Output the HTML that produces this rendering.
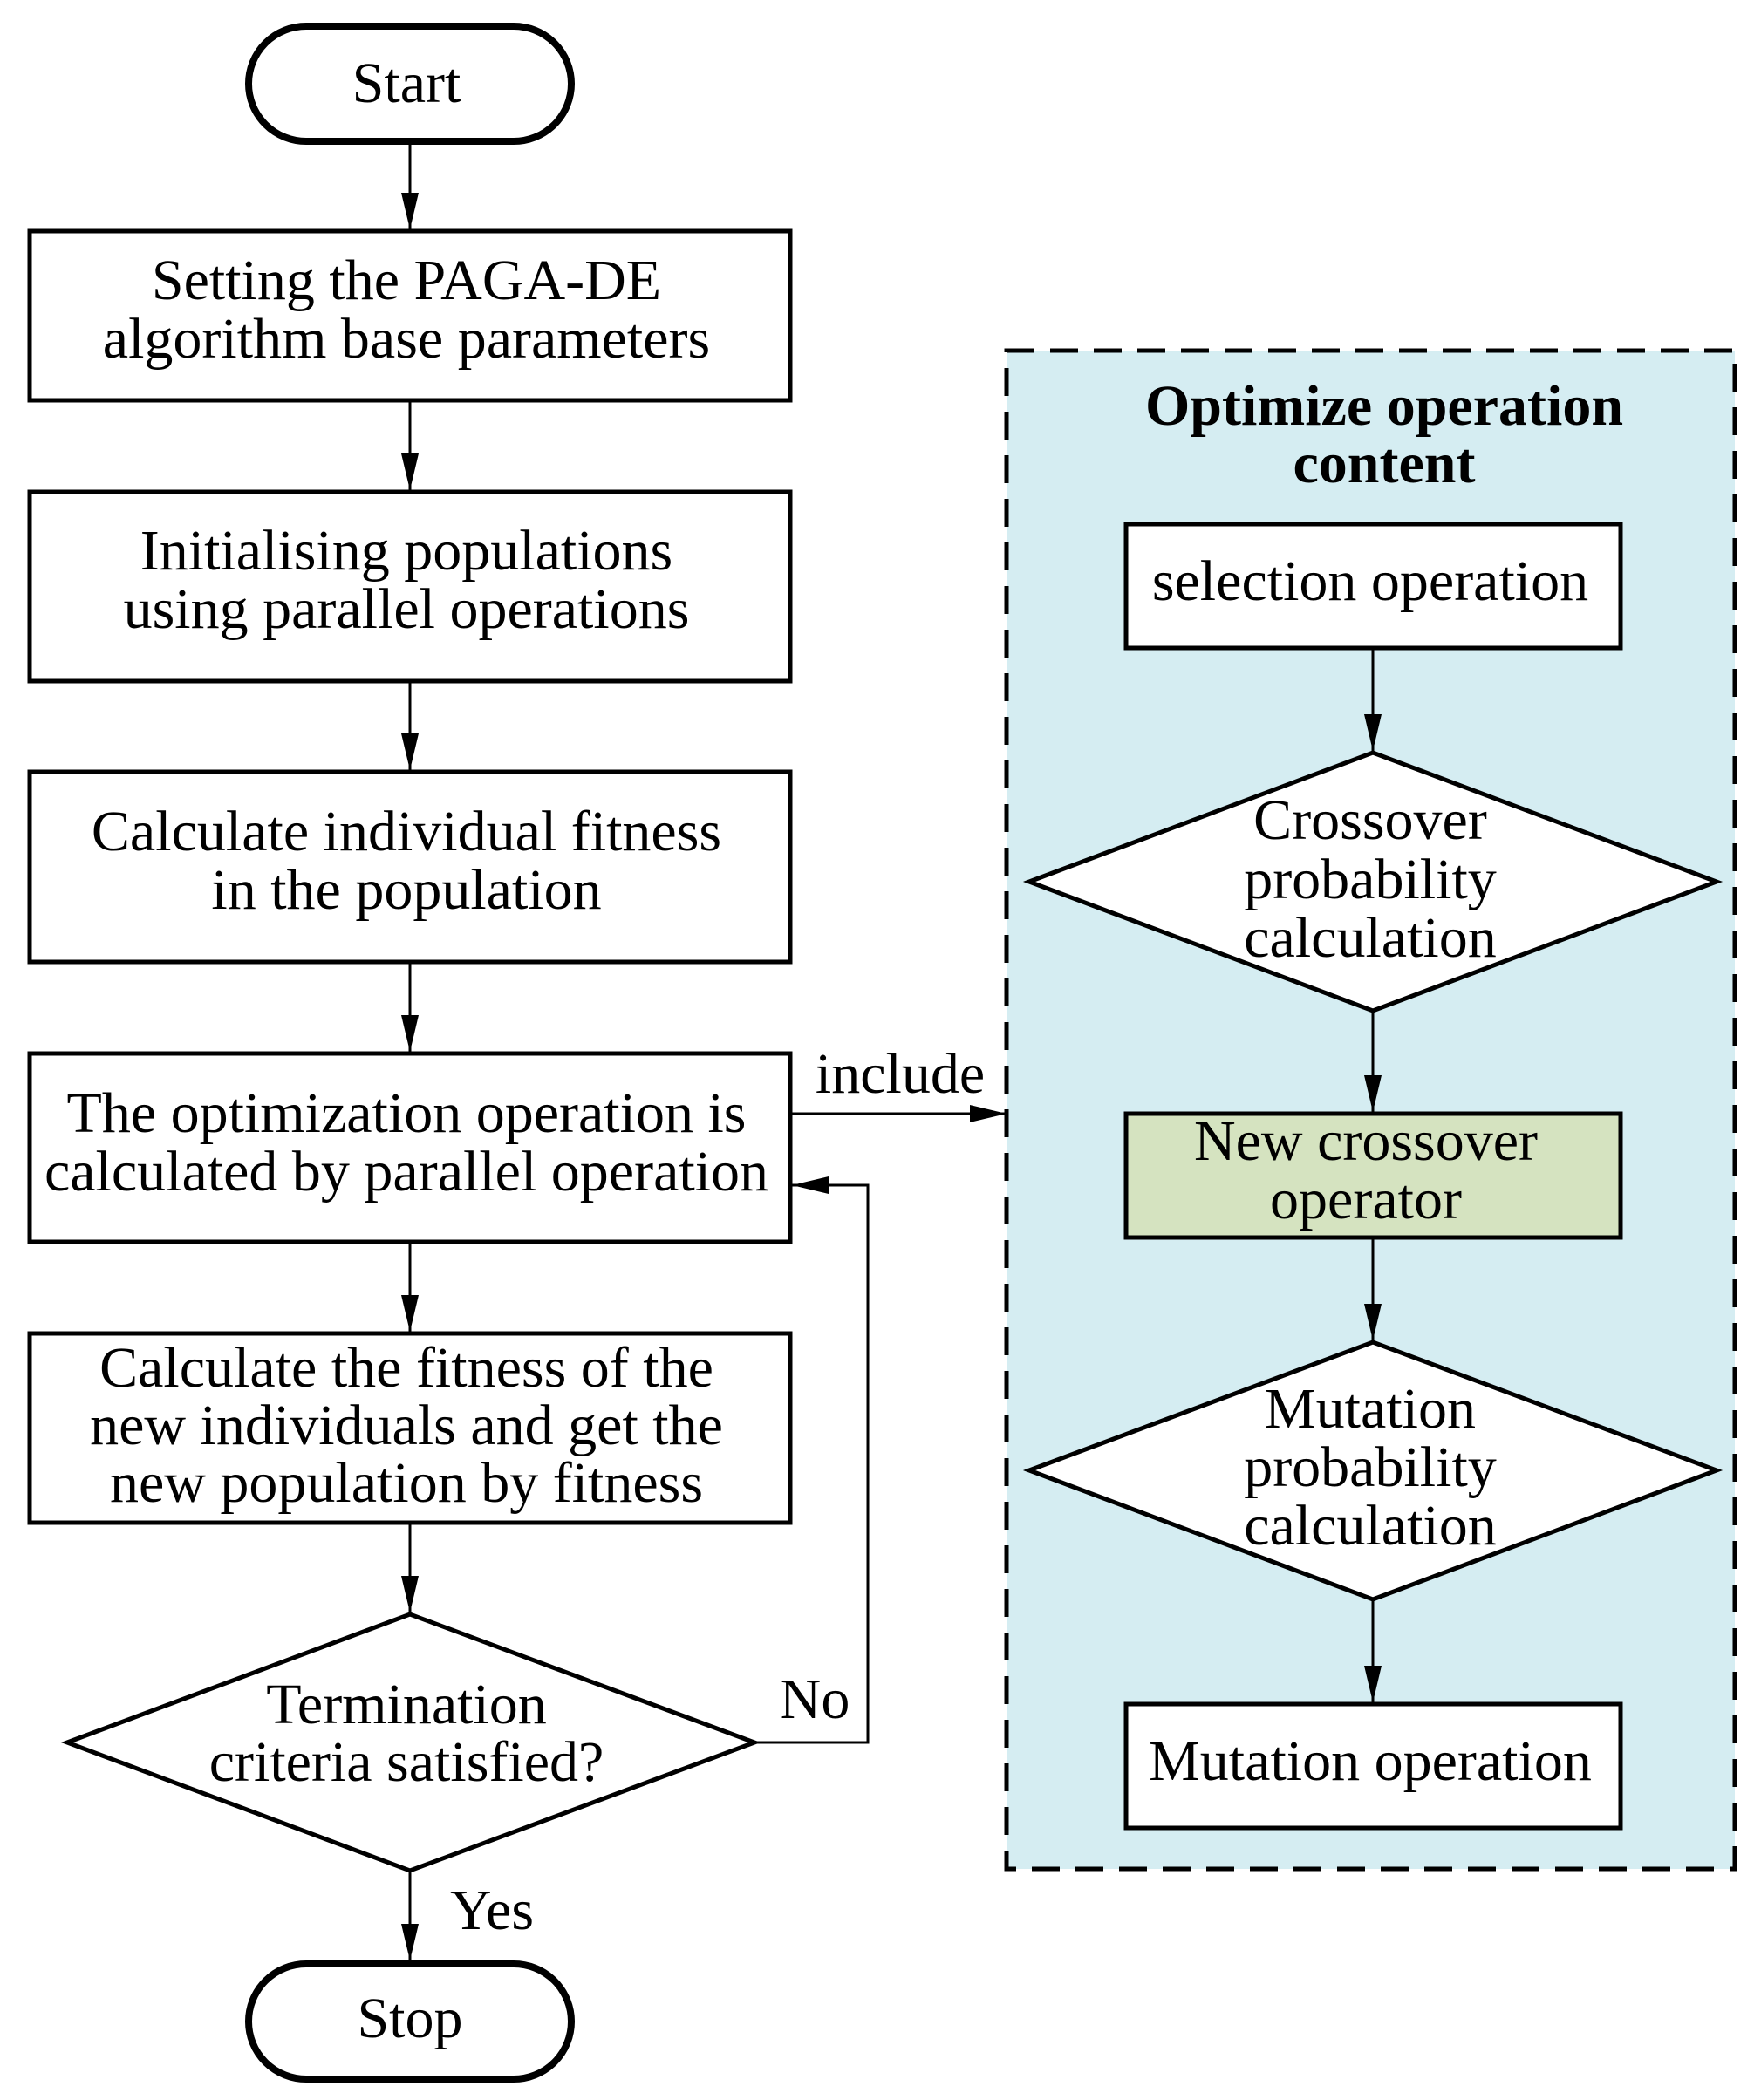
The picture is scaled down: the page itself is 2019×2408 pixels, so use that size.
<!DOCTYPE html>
<html><head><meta charset="utf-8"><style>html,body{margin:0;padding:0;background:#fff}svg{display:block}</style></head>
<body>
<svg width="2019" height="2408" viewBox="0 0 2019 2408" xmlns="http://www.w3.org/2000/svg" font-family="'Liberation Serif', serif" font-size="66" text-anchor="middle">
<defs><marker id="a" markerWidth="42" markerHeight="20" refX="42" refY="10" viewBox="0 0 42 20" orient="auto" markerUnits="userSpaceOnUse"><path d="M0,0 L42,10 L0,20 z" fill="#000"/></marker></defs>
<g fill="none" stroke="#000" stroke-width="3">
<rect x="1154" y="402" width="835" height="1741" fill="#d5edf2" stroke-width="5" stroke-dasharray="32,18"/>
</g>
<g stroke="#000" stroke-width="5" fill="#fff">
<rect x="285" y="30" width="370" height="132" rx="66" stroke-width="8"/>
<rect x="34" y="265" width="872" height="194"/>
<rect x="34" y="564" width="872" height="217"/>
<rect x="34" y="885" width="872" height="218"/>
<rect x="34" y="1208" width="872" height="216"/>
<rect x="34" y="1529" width="872" height="217"/>
<polygon points="77,1998 470,1851 865,1998 470,2145"/>
<rect x="285" y="2252" width="370" height="132" rx="66" stroke-width="8"/>
<rect x="1291" y="601" width="567" height="142"/>
<polygon points="1180,1011 1574,863 1968,1011 1574,1159"/>
<rect x="1291" y="1277" width="567" height="142" fill="#d5e3c0"/>
<polygon points="1180,1686 1574,1539 1968,1686 1574,1834"/>
<rect x="1291" y="1954" width="567" height="142"/>
</g>
<g stroke="#000" stroke-width="3" fill="none">
<line x1="470" y1="162" x2="470" y2="263" marker-end="url(#a)"/>
<line x1="470" y1="459" x2="470" y2="562" marker-end="url(#a)"/>
<line x1="470" y1="781" x2="470" y2="883" marker-end="url(#a)"/>
<line x1="470" y1="1103" x2="470" y2="1206" marker-end="url(#a)"/>
<line x1="470" y1="1424" x2="470" y2="1527" marker-end="url(#a)"/>
<line x1="470" y1="1746" x2="470" y2="1849" marker-end="url(#a)"/>
<line x1="470" y1="2145" x2="470" y2="2248" marker-end="url(#a)"/>
<line x1="906" y1="1277" x2="1154" y2="1277" marker-end="url(#a)"/>
<polyline points="865,1998 995,1998 995,1359 908,1359" marker-end="url(#a)"/>
<line x1="1574" y1="743" x2="1574" y2="861" marker-end="url(#a)"/>
<line x1="1574" y1="1159" x2="1574" y2="1275" marker-end="url(#a)"/>
<line x1="1574" y1="1419" x2="1574" y2="1537" marker-end="url(#a)"/>
<line x1="1574" y1="1834" x2="1574" y2="1952" marker-end="url(#a)"/>
</g>
<g fill="#000">
<text x="466" y="117">Start</text>
<text x="466" y="343">Setting the PAGA-DE</text>
<text x="466" y="410">algorithm base parameters</text>
<text x="466" y="653">Initialising populations</text>
<text x="466" y="720">using parallel operations</text>
<text x="466" y="975">Calculate individual fitness</text>
<text x="466" y="1042">in the population</text>
<text x="466" y="1298">The optimization operation is</text>
<text x="466" y="1365">calculated by parallel operation</text>
<text x="466" y="1590">Calculate the fitness of the</text>
<text x="466" y="1656">new individuals and get the</text>
<text x="466" y="1722">new population by fitness</text>
<text x="466" y="1976">Termination</text>
<text x="466" y="2042">criteria satisfied?</text>
<text x="470" y="2336">Stop</text>
<text x="1032" y="1253">include</text>
<text x="934" y="1970">No</text>
<text x="564" y="2212">Yes</text>
<text x="1587" y="487" font-weight="bold">Optimize operation</text>
<text x="1587" y="553" font-weight="bold">content</text>
<text x="1571" y="688">selection operation</text>
<text x="1571" y="962">Crossover</text>
<text x="1571" y="1030">probability</text>
<text x="1571" y="1097">calculation</text>
<text x="1566" y="1330">New crossover</text>
<text x="1566" y="1397">operator</text>
<text x="1571" y="1637">Mutation</text>
<text x="1571" y="1704">probability</text>
<text x="1571" y="1771">calculation</text>
<text x="1571" y="2041">Mutation operation</text>
</g>
</svg>
</body></html>
